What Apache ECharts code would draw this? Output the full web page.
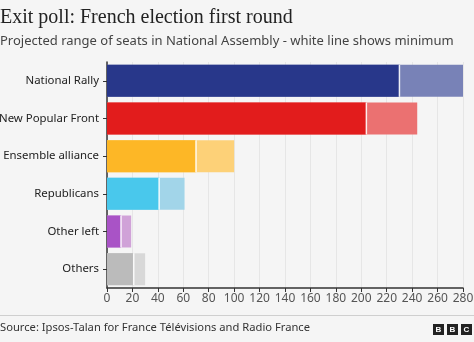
<!DOCTYPE html>
<html><head><meta charset="utf-8">
<script src="https://cdn.jsdelivr.net/npm/echarts@6/dist/echarts.min.js"></script>
<style>html,body{margin:0;padding:0;background:#f5f5f5;}#c{width:474px;height:342px;}</style>
</head><body><div id="c"></div>
<script>
const categories = ["National Rally","New Popular Front","Ensemble alliance","Republicans","Other left","Others"];
const minSeats = [230, 204, 70, 41, 11, 21];
const maxSeats = [280, 244, 100, 61, 19, 30];
const darkColors = ["#28378a","#e21c1c","#fdb726","#49c8ec","#a953c6","#bbbbbb"];
const lightColors = ["#7882b7","#eb7171","#fdd178","#a2d5e9","#d0a2d8","#d8d8d8"];
const xTicks = {min:0, max:280, interval:20};

const chart = echarts.init(document.getElementById('c'), null, {renderer:'canvas'});
const font = "'Noto Sans', sans-serif";
chart.setOption({
  backgroundColor:'#f5f5f5',
  animation:false,
  title:[
    {text:'Exit poll: French election first round', left:0, top:8, padding:0,
     textStyle:{fontFamily:"'Liberation Serif', serif", fontSize:20, fontWeight:'normal', color:'#222'}},
    {text:'Projected range of seats in National Assembly - white line shows minimum', left:0, top:35, padding:0,
     textStyle:{fontFamily:font, fontSize:13, fontWeight:'normal', color:'#444'}},
    {text:'Source: Ipsos-Talan for France Télévisions and Radio France', left:0, top:322, padding:0,
     textStyle:{fontFamily:font, fontSize:11.2, fontWeight:'normal', color:'#333'}}
  ],
  graphic:[
    {type:'line', shape:{x1:0,y1:315.5,x2:474,y2:315.5}, style:{stroke:'#cfcfcf', lineWidth:1}},
    {type:'rect', shape:{x:433,y:324,width:11,height:11}, style:{fill:'#222'}},
    {type:'rect', shape:{x:447,y:324,width:11,height:11}, style:{fill:'#222'}},
    {type:'rect', shape:{x:461,y:324,width:11,height:11}, style:{fill:'#222'}},
    {type:'text', x:438.5, y:329.5, style:{text:'B', fill:'#fff', font:"bold 8px 'Liberation Sans'", textAlign:'center', textVerticalAlign:'middle'}},
    {type:'text', x:452.5, y:329.5, style:{text:'B', fill:'#fff', font:"bold 8px 'Liberation Sans'", textAlign:'center', textVerticalAlign:'middle'}},
    {type:'text', x:466.5, y:329.5, style:{text:'C', fill:'#fff', font:"bold 8px 'Liberation Sans'", textAlign:'center', textVerticalAlign:'middle'}}
  ],
  grid:{left:107, right:11, top:62, bottom:54, containLabel:false, outerBoundsMode:'none'},
  xAxis:{type:'value', min:xTicks.min, max:xTicks.max, interval:xTicks.interval,
    axisLine:{show:true, lineStyle:{color:'#333', width:1.5}},
    axisTick:{show:true, length:4, lineStyle:{color:'#333'}},
    axisLabel:{fontFamily:font, fontSize:12, color:'#555', margin:5},
    splitLine:{show:true, lineStyle:{color:'#e6e6e6', width:1}}},
  yAxis:{type:'category', data:categories, inverse:true,
    axisLine:{show:true, lineStyle:{color:'#333', width:1.5}},
    axisTick:{show:true, length:4, alignWithLabel:true, lineStyle:{color:'#333'}},
    axisLabel:{fontFamily:font, fontSize:11.4, color:'#222', margin:8}},
  series:[
    {type:'bar', data:maxSeats.map((v,i)=>({value:v, itemStyle:{color:lightColors[i]}})),
     barWidth:32, barGap:'-100%', z:2},
    {type:'bar', data:minSeats.map((v,i)=>({value:v, itemStyle:{color:darkColors[i]}})),
     barWidth:32, barGap:'-100%', z:3},
    {type:'scatter', data:minSeats.map((v,i)=>[v, categories[i]]), symbol:'rect',
     symbolSize:[1.5,32], itemStyle:{color:'#ffffff', opacity:0.9}, z:4, silent:true}
  ]
});
</script></body></html>
